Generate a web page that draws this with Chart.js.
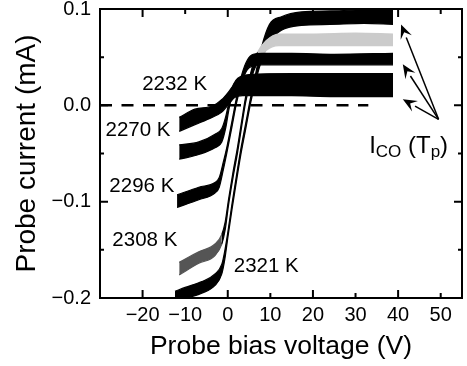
<!DOCTYPE html>
<html>
<head>
<meta charset="utf-8">
<script src="https://cdn.jsdelivr.net/npm/chart.js@4.4.1/dist/chart.umd.min.js"></script>
<style>
  html, body { margin: 0; padding: 0; background: #fff; }
  #wrap { width: 467px; height: 366px; }
</style>
</head>
<body>
<div id="wrap"><canvas id="chart"></canvas></div>
<script>
// probe bias (V) and the min / max of the noisy probe current (mA) for each temperature
var v2232  = [-11.4, -7.7, -3.7, -1.4, 0.2, 1.6, 3.5, 7, 15, 25, 38.8];
var lo2232 = [-0.027, -0.020, -0.0125, -0.007, 0.001, 0.008, 0.010, 0.010, 0.010, 0.009, 0.009];
var hi2232 = [-0.0125, -0.004, -0.001, 0.006, 0.014, 0.022, 0.026, 0.025, 0.024, 0.024, 0.024];

var v2270  = [-11.4, -6.8, -3.0, -1.4, -0.5, 0.2, 1.0, 1.9, 3.0, 5, 15, 25, 38.8];
var lo2270 = [-0.056, -0.051, -0.044, -0.038, -0.024, -0.006, 0.010, 0.016, 0.018, 0.019, 0.019, 0.019, 0.018];
var hi2270 = [-0.041, -0.038, -0.030, -0.024, -0.012, 0.002, 0.018, 0.026, 0.030, 0.032, 0.033, 0.033, 0.033];

var v2296  = [-11.9, -6.8, -3.0, -2.0, -1.0, -0.2, 1.0, 2.1, 3.3, 4.6, 6.0, 8.0, 15, 25, 38.8];
var lo2296 = [-0.106, -0.098, -0.091, -0.085, -0.066, -0.049, -0.022, 0.003, 0.024, 0.037, 0.041, 0.042, 0.042, 0.042, 0.042];
var hi2296 = [-0.093, -0.085, -0.080, -0.075, -0.058, -0.043, -0.016, 0.009, 0.032, 0.047, 0.053, 0.054, 0.054, 0.053, 0.054];

var v2308  = [-11.4, -6.8, -3.0, -1.4, -0.6, 0.2, 1.2, 2.3, 3.2, 4.2, 5.4, 7.0, 9.0, 12, 20, 30, 38.8];
var lo2308 = [-0.176, -0.164, -0.156, -0.144, -0.129, -0.103, -0.076, -0.049, -0.024, 0.003, 0.026, 0.045, 0.057, 0.062, 0.062, 0.062, 0.062];
var hi2308 = [-0.163, -0.152, -0.144, -0.134, -0.121, -0.097, -0.070, -0.043, -0.018, 0.009, 0.034, 0.055, 0.067, 0.074, 0.074, 0.075, 0.074];

var v2321  = [-12.4, -10.0, -6.1, -3.0, -1.4, -0.7, 0.0, 1.0, 2.0, 3.0, 4.2, 5.4, 6.6, 7.9, 9.8, 12.6, 17.3, 24, 32, 38.8];
var lo2321 = [-0.207, -0.201, -0.195, -0.187, -0.175, -0.160, -0.138, -0.108, -0.080, -0.053, -0.025, 0.003, 0.026, 0.046, 0.066, 0.078, 0.083, 0.084, 0.085, 0.084];
var hi2321 = [-0.193, -0.189, -0.183, -0.175, -0.165, -0.151, -0.132, -0.102, -0.074, -0.047, -0.019, 0.009, 0.034, 0.060, 0.084, 0.092, 0.097, 0.098, 0.099, 0.099];

// dashed zero-current reference
var zeroV = [-30, 33];
var zeroI = [0, 0];

var tempLabels = ['2232 K', '2270 K', '2296 K', '2308 K', '2321 K'];

Chart.defaults.font.family = "'Liberation Sans', Arial, Helvetica, sans-serif";
Chart.defaults.color = '#000';

var pts = function (xs, ys) {
    return xs.map(function (x, i) { return { x: x, y: ys[i] }; });
};

var minus = function (s) { return s.replace('-', '\u2212'); };

// steep part of a trace is a thin black line, flat parts keep their tone
var tone = function (ctx, pos, neg) {
    var dx = Math.abs(ctx.p1.x - ctx.p0.x);
    var dy = Math.abs(ctx.p1.y - ctx.p0.y);
    if (dy > 2 * dx) return '#000';
    return ctx.p0.parsed.y > 0 ? pos : neg;
};

var band = function (xs, lo, hi, pos, neg) {
    var seg = {
        borderColor: function (c) { return tone(c, pos, neg); },
        backgroundColor: function (c) { return tone(c, pos, neg); }
    };
    var common = {
        borderColor: '#000', borderWidth: 1.2, pointRadius: 0,
        cubicInterpolationMode: 'monotone', segment: seg
    };
    return [
        Object.assign({ data: pts(xs, lo), fill: false }, common),
        Object.assign({ data: pts(xs, hi), fill: '-1', backgroundColor: '#000' }, common)
    ];
};

var datasets = [].concat(
    band(v2232, lo2232, hi2232, '#000', '#000'),
    band(v2270, lo2270, hi2270, '#000', '#000'),
    band(v2296, lo2296, hi2296, '#000', '#000'),
    band(v2308, lo2308, hi2308, '#cbcbcb', '#555'),
    band(v2321, lo2321, hi2321, '#000', '#000')
);
datasets.push({
    data: pts(zeroV, zeroI), borderColor: '#000', borderWidth: 2.5,
    borderDash: [12, 9.5], pointRadius: 0, fill: false
});

// temperature labels (data coordinates of the text's left baseline)
var labelPos = [[-20.1, 0.0156], [-28.7, -0.032], [-27.8, -0.090], [-27.1, -0.146], [1.4, -0.173]];
var arrowTail = [49.5, -0.0145];
var arrowTips = [[40.7, 0.084], [41.1, 0.0426], [41.1, 0.0062]];

var frame = {
    id: 'frame',
    afterDraw: function (chart) {
        var ctx = chart.ctx, a = chart.chartArea;
        var xs = chart.scales.x, ys = chart.scales.y;
        ctx.save();
        ctx.strokeStyle = '#000';
        ctx.fillStyle = '#000';
        ctx.lineWidth = 2;
        ctx.strokeRect(a.left, a.top, a.right - a.left, a.bottom - a.top);

        ctx.beginPath();
        xs.ticks.forEach(function (t) {
            if (t.value <= xs.min || t.value >= xs.max) return;
            var px = xs.getPixelForValue(t.value);
            var len = Math.round(t.value) % 20 === 0 ? 8 : 5;
            ctx.moveTo(px, a.bottom); ctx.lineTo(px, a.bottom - len);
            ctx.moveTo(px, a.top); ctx.lineTo(px, a.top + len);
        });
        ys.ticks.forEach(function (t) {
            if (t.value <= ys.min || t.value >= ys.max) return;
            var py = ys.getPixelForValue(t.value);
            var len = t.label ? 8 : 4;
            ctx.moveTo(a.left, py); ctx.lineTo(a.left + len, py);
            ctx.moveTo(a.right, py); ctx.lineTo(a.right - len, py);
        });
        ctx.stroke();

        ctx.font = "20.5px 'Liberation Sans', Arial, sans-serif";
        ctx.textBaseline = 'alphabetic';
        ctx.textAlign = 'left';
        tempLabels.forEach(function (s, i) {
            ctx.fillText(s, xs.getPixelForValue(labelPos[i][0]), ys.getPixelForValue(labelPos[i][1]));
        });

        // I_CO (T_p)
        var lx = xs.getPixelForValue(33.2), ly = ys.getPixelForValue(-0.049);
        var big = "24px 'Liberation Sans', Arial, sans-serif";
        var small = "17px 'Liberation Sans', Arial, sans-serif";
        var parts = [['I', big, 0], ['CO', small, 4], [' (T', big, 0], ['p', small, 4], [')', big, 0]];
        parts.forEach(function (p) {
            ctx.font = p[1];
            ctx.fillText(p[0], lx, ly + p[2]);
            lx += ctx.measureText(p[0]).width;
        });

        // arrows
        var tx = xs.getPixelForValue(arrowTail[0]), ty = ys.getPixelForValue(arrowTail[1]);
        ctx.lineWidth = 1.5;
        arrowTips.forEach(function (tip) {
            var hx = xs.getPixelForValue(tip[0]), hy = ys.getPixelForValue(tip[1]);
            var ang = Math.atan2(hy - ty, hx - tx);
            var hl = 14, hw = 6;
            var bx = hx - hl * Math.cos(ang), by = hy - hl * Math.sin(ang);
            ctx.beginPath();
            ctx.moveTo(tx, ty); ctx.lineTo(bx, by);
            ctx.stroke();
            ctx.beginPath();
            ctx.moveTo(hx, hy);
            ctx.lineTo(bx + hw * Math.sin(ang), by - hw * Math.cos(ang));
            ctx.lineTo(hx - 0.6 * hl * Math.cos(ang), hy - 0.6 * hl * Math.sin(ang));
            ctx.lineTo(bx - hw * Math.sin(ang), by + hw * Math.cos(ang));
            ctx.closePath();
            ctx.fill();
        });
        ctx.restore();
    }
};

new Chart(document.getElementById('chart'), {
    type: 'line',
    data: { datasets: datasets },
    options: {
        responsive: true,
        maintainAspectRatio: false,
        animation: false,
        layout: { padding: { top: 9, right: 5, left: 0, bottom: 0 } },
        plugins: { legend: { display: false }, tooltip: { enabled: false } },
        scales: {
            x: {
                type: 'linear', min: -30, max: 55,
                grid: { display: false, drawTicks: false },
                border: { display: false },
                ticks: {
                    stepSize: 10, padding: 5, font: { size: 20 }, maxRotation: 0,
                    autoSkip: false, includeBounds: false,
                    callback: function (v) {
                        if (v <= -30 || v >= 55) return '';
                        return minus(String(Math.round(v)));
                    }
                },
                title: { display: true, text: 'Probe bias voltage (V)', font: { size: 26.5 }, padding: { top: 0, bottom: 3 } },
                afterFit: function (s) {
                    s.height = 68;
                    s.paddingLeft = 0;
                    s.paddingRight = 0;
                }
            },
            y: {
                type: 'linear', min: -0.2, max: 0.1,
                grid: { display: false, drawTicks: false },
                border: { display: false },
                ticks: {
                    stepSize: 0.05, padding: 9, font: { size: 20 }, autoSkip: false,
                    callback: function (v) {
                        var r = Math.round(v * 100);
                        if (r % 10 !== 0) return '';
                        return r < 0 ? '\u2212' + (-r / 100).toFixed(1) : (r / 100).toFixed(1);
                    }
                },
                title: { display: true, text: 'Probe current (mA)', font: { size: 28 }, padding: { top: 10, bottom: 0 } },
                afterFit: function (s) {
                    s.width = 100;
                    s.paddingTop = 0;
                    s.paddingBottom = 0;
                }
            }
        }
    },
    plugins: [frame]
});
</script>
</body>
</html>
